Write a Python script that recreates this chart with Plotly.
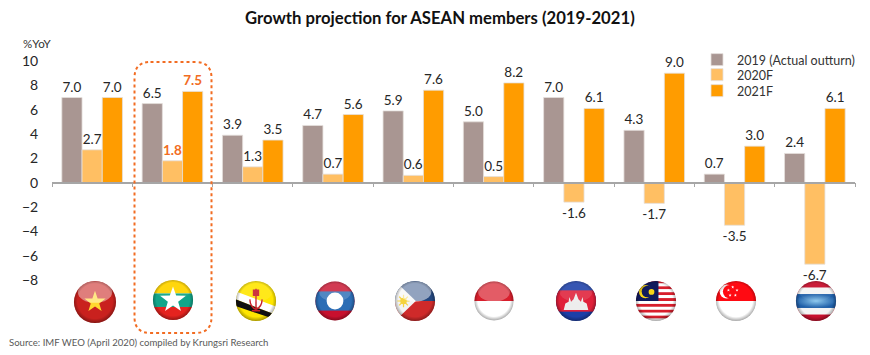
import base64, math
import plotly.graph_objects as go

countries = ["Vietnam", "Myanmar", "Brunei", "Laos", "Philippines", "Indonesia", "Cambodia", "Malaysia", "Singapore", "Thailand"]
y2019 = [7.0, 6.5, 3.9, 4.7, 5.9, 5.0, 7.0, 4.3, 0.7, 2.4]
y2020 = [2.7, 1.8, 1.3, 0.7, 0.6, 0.5, -1.6, -1.7, -3.5, -6.7]
y2021 = [7.0, 7.5, 3.5, 5.6, 7.6, 8.2, 6.1, 9.0, 3.0, 6.1]
y_ticks = [10, 8, 6, 4, 2, 0, -2, -4, -6, -8]

W, H = 870, 355
L, R, T, B = 52, 15, 61, 75
PW, PH = W - L - R, H - T - B
HIGHLIGHT = "Myanmar"
ORANGE = "#F26C22"
TXT = "#262626"
FONT = "Lato, Carlito, Calibri, sans-serif"


def star(cx, cy, r, fill, rot=-90):
    pts = []
    for i in range(10):
        rr = r if i % 2 == 0 else r * 0.40
        a = math.radians(rot + i * 36)
        pts.append(f"{cx + rr * math.cos(a):.2f},{cy + rr * math.sin(a):.2f}")
    return f'<polygon points="{" ".join(pts)}" fill="{fill}"/>'


def rect(y, h, fill, x=0, w=100):
    return f'<rect x="{x}" y="{y}" width="{w}" height="{h}" fill="{fill}"/>'


def flag_vietnam():
    return rect(0, 100, "#C9211E") + star(50, 50, 26, "#FFD92E"), 0.42


def flag_myanmar():
    return rect(0, 34, "#FFD400") + rect(34, 33, "#12A58A") + rect(67, 33, "#E5231F") + star(50, 50, 33, "#FFFFFF"), 0.05


def flag_brunei():
    emblem = ('<g fill="none" stroke="#C8202A" stroke-width="3.5">'
              '<path d="M50 20 V70"/><path d="M44 24 h12 v12 h-12z" fill="#C8202A"/>'
              '<path d="M35 46 q1 20 15 24 q14 -4 15 -24"/><path d="M40 74 h20"/></g>')
    return (rect(0, 100, "#FFE600")
            + '<polygon points="0,26 0,46 100,84 100,64" fill="#FFFFFF"/>'
            + '<polygon points="0,46 0,62 100,96 100,84" fill="#111111"/>' + emblem), 0.1


def flag_laos():
    return (rect(0, 100, "#C8102E") + rect(26, 48, "#2C6DB5")
            + '<circle cx="50" cy="50" r="21" fill="#FFFFFF"/>'), 0.18


def flag_philippines():
    rays = "".join(
        f'<line x1="22" y1="50" x2="{22 + 15 * math.cos(i * math.pi / 4):.1f}" '
        f'y2="{50 + 15 * math.sin(i * math.pi / 4):.1f}" stroke="#F5D33C" stroke-width="3"/>'
        for i in range(8))
    return (rect(0, 50, "#24477F") + rect(50, 50, "#CF2A2A")
            + '<polygon points="0,0 52,50 0,100" fill="#F3F3F3"/>' + rays
            + '<circle cx="22" cy="50" r="8" fill="#F5D33C"/>'), 0.5


def flag_indonesia():
    return rect(0, 50, "#D81E2C") + rect(50, 50, "#FFFFFF"), 0.28


def flag_cambodia():
    temple = ('<path d="M20 72 L24 56 L32 52 L34 40 L38 52 L44 46 L50 30 L56 46 L62 52 L66 40 L68 52 L76 56 L80 72 Z" '
              'fill="#EDEDED"/>')
    return rect(0, 100, "#1C3FA8") + rect(24, 52, "#E0203A") + temple, 0.12


def flag_malaysia():
    s = "".join(rect(i * 100 / 14, 100 / 14, "#D81E2C" if i % 2 == 0 else "#FFFFFF") for i in range(14))
    return (s + rect(0, 50, "#101A5C", 0, 56)
            + '<circle cx="24" cy="27" r="16" fill="#F7D417"/><circle cx="29" cy="27" r="14" fill="#101A5C"/>'
            + '<circle cx="39" cy="28" r="7" fill="#F7D417"/>'), 0.0


def flag_singapore():
    stars = "".join(star(42 + 11 * math.cos(math.radians(-90 + 72 * i)), 27 + 11 * math.sin(math.radians(-90 + 72 * i)), 4, "#FFFFFF") for i in range(5))
    return (rect(0, 50, "#FF0A12") + rect(50, 50, "#FFFFFF")
            + '<circle cx="27" cy="27" r="17" fill="#FFFFFF"/><circle cx="34" cy="27" r="16" fill="#FF0A12"/>' + stars), 0.0


def flag_thailand():
    return ('<defs><radialGradient id="t" cx="50%" cy="50%" r="50%"><stop offset="0%" stop-color="#8CC8EE"/>'
            '<stop offset="100%" stop-color="#1F5FA8"/></radialGradient></defs>'
            + rect(0, 100, "#C8102E") + rect(17, 66, "#F4F4F4") + rect(33, 34, "url(#t)")), 0.05


def flag_uri(art):
    inner, gloss = art
    g = f'<ellipse cx="50" cy="27" rx="40" ry="25" fill="#FFFFFF" opacity="{gloss}"/>' if gloss else ""
    svg = ('<svg xmlns="http://www.w3.org/2000/svg" viewBox="0 0 100 100" width="100" height="100">'
           '<defs><clipPath id="c"><circle cx="50" cy="50" r="49"/></clipPath>'
           '<radialGradient id="s" cx="50%" cy="48%" r="52%"><stop offset="78%" stop-color="#000" stop-opacity="0"/>'
           '<stop offset="100%" stop-color="#000" stop-opacity="0.38"/></radialGradient></defs>'
           f'<g clip-path="url(#c)">{inner}{g}<circle cx="50" cy="50" r="50" fill="url(#s)"/></g></svg>')
    return "data:image/svg+xml;base64," + base64.b64encode(svg.encode()).decode()


flags = [(flag_vietnam, 95, 302, 21.5), (flag_myanmar, 173, 300, 20.5), (flag_brunei, 256, 301, 20.5),
         (flag_laos, 335, 301, 20), (flag_philippines, 415, 301, 20.5), (flag_indonesia, 494, 301, 20),
         (flag_cambodia, 576, 301, 20.5), (flag_malaysia, 656, 301, 20.5), (flag_singapore, 736, 301, 20.5),
         (flag_thailand, 816, 301, 20.5)]


def px(x):
    return (x - L) / PW


def py(y):
    return 1 - (y - T) / PH


def labels(values, hl=True):
    out = []
    for c, v in zip(countries, values):
        s = f"{v:.1f}"
        out.append(f"<b>{s}</b>" if c == HIGHLIGHT and hl else s)
    return out


def label_colors(hl=True):
    return [ORANGE if c == HIGHLIGHT and hl else TXT for c in countries]


fig = go.Figure()
series = [("2019 (Actual outturn)", y2019, "#A99692", False, "legend"),
          ("2020F", y2020, "#FFBF63", True, "legend2"),
          ("2021F", y2021, "#FF9C00", True, "legend3")]
for name, vals, color, hl, lg in series:
    fig.add_bar(x=countries, y=vals, name=name, legend=lg, showlegend=True,
                marker=dict(color=color, line=dict(color="#E4DFDC", width=0.8)),
                text=labels(vals, hl), textposition="outside", cliponaxis=False,
                textfont=dict(family=FONT, size=13.5, color=label_colors(hl)),
                textangle=0, constraintext="none")

box_l, box_r, box_t, box_b, rad = px(134.5), px(211.5), py(62), py(333), 16
rx, ry = rad / PW, rad / PH
path = (f"M{box_l + rx},{box_t} L{box_r - rx},{box_t} Q{box_r},{box_t} {box_r},{box_t - ry} "
        f"L{box_r},{box_b + ry} Q{box_r},{box_b} {box_r - rx},{box_b} "
        f"L{box_l + rx},{box_b} Q{box_l},{box_b} {box_l},{box_b + ry} "
        f"L{box_l},{box_t - ry} Q{box_l},{box_t} {box_l + rx},{box_t} Z")


def legend_at(top):
    return dict(x=px(697), y=py(top), xanchor="left", yanchor="top", bgcolor="rgba(0,0,0,0)",
                font=dict(size=12.5, color="#333333", family=FONT), itemclick=False, itemdoubleclick=False)


fig.update_layout(
    width=W, height=H, autosize=False, showlegend=True,
    margin=dict(l=L, r=R, t=T, b=B, autoexpand=False),
    paper_bgcolor="white", plot_bgcolor="white",
    barmode="group", bargap=0.245, bargroupgap=0,
    font=dict(family=FONT, size=14, color=TXT),
    xaxis=dict(anchor="free", position=8 / 18, showticklabels=False, ticks="outside", ticklen=4,
               tickcolor="#A6A6A6", tickwidth=1, tickson="boundaries", showline=True,
               linecolor="#A6A6A6", linewidth=1.5, showgrid=False, zeroline=False, range=[-0.5, 9.5]),
    yaxis=dict(range=[-8, 10], tickvals=y_ticks, ticks="outside", ticklen=10, tickcolor="rgba(0,0,0,0)",
               showgrid=False, zeroline=False, showline=False, tickfont=dict(size=14, color=TXT, family=FONT)),
    legend=legend_at(45), legend2=legend_at(60), legend3=legend_at(76),
    shapes=[dict(type="path", xref="paper", yref="paper", path=path, layer="above",
                 line=dict(color=ORANGE, width=2, dash="dot"))],
    images=[dict(source=flag_uri(f()), xref="paper", yref="paper", x=px(cx - r), y=py(cy - r),
                 sizex=2 * r / PW, sizey=2 * r / PH, xanchor="left", yanchor="top",
                 sizing="stretch", layer="above") for f, cx, cy, r in flags],
    annotations=[
        dict(text="<b>Growth projection for ASEAN members (2019-2021)</b>", xref="paper", yref="paper",
             x=px(440), y=py(18), xanchor="center", yanchor="middle", showarrow=False,
             font=dict(size=16.7, color="#111111", family=FONT)),
        dict(text="%YoY", xref="paper", yref="paper", x=px(21), y=py(43), xanchor="left", yanchor="middle",
             showarrow=False, font=dict(size=11.5, color="#333333", family=FONT)),
        dict(text="Source: IMF WEO (April 2020) compiled by Krungsri Research", xref="paper", yref="paper",
             x=px(7), y=py(342), xanchor="left", yanchor="middle", showarrow=False,
             font=dict(size=9.6, color="#595959", family=FONT)),
    ],
)
fig.write_html("out.html", config=dict(displayModeBar=False),
               post_script="document.body.style.margin='0';document.documentElement.style.overflow='hidden';")
